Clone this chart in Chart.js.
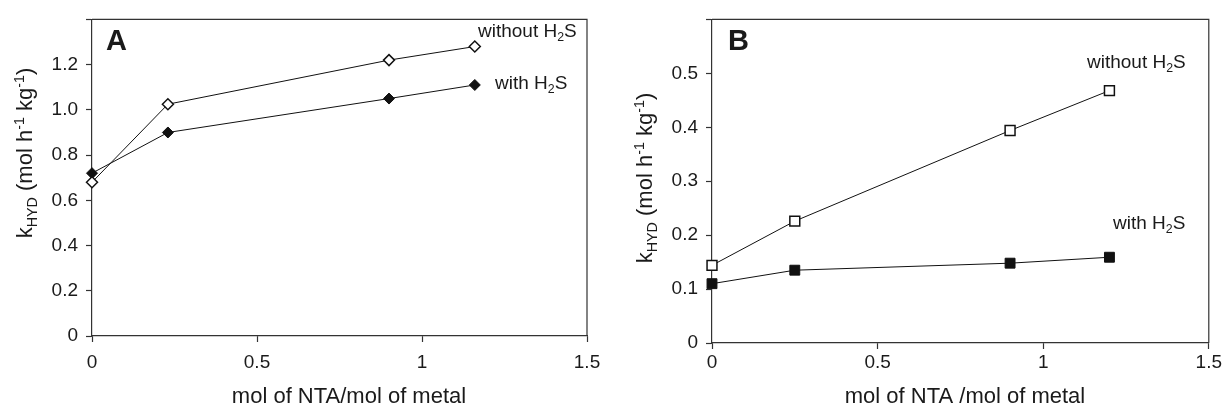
<!DOCTYPE html>
<html>
<head>
<meta charset="utf-8">
<script src="https://cdn.jsdelivr.net/npm/chart.js@4.4.0/dist/chart.umd.min.js"></script>
<style>
html, body { margin: 0; padding: 0; background: #fff; }
#wrap { position: relative; width: 1224px; height: 409px; }
.panel { position: absolute; top: 0; width: 612px; height: 409px; }
</style>
</head>
<body>
<div id="wrap">
  <div class="panel" style="left:0"><canvas id="chartA"></canvas></div>
  <div class="panel" style="left:612px"><canvas id="chartB"></canvas></div>
</div>
<script>
// panel A : mol NTA / mol metal vs kHYD
const ratioA = [0, 0.23, 0.9, 1.16];
const withoutA = [0.68, 1.025, 1.22, 1.28];
const withA = [0.72, 0.90, 1.05, 1.11];

// panel B
const ratioB = [0, 0.25, 0.9, 1.2];
const withoutB = [0.144, 0.226, 0.394, 0.468];
const withB = [0.11, 0.135, 0.148, 0.159];

const xTicks = [0, 0.5, 1, 1.5];
const xLabels = ['0', '0.5', '1', '1.5'];
const yTicksA = [0, 0.2, 0.4, 0.6, 0.8, 1.0, 1.2, 1.4];
const yLabelsA = ['0', '0.2', '0.4', '0.6', '0.8', '1.0', '1.2', ''];
const yTicksB = [0, 0.1, 0.2, 0.3, 0.4, 0.5, 0.6];
const yLabelsB = ['0', '0.1', '0.2', '0.3', '0.4', '0.5', ''];

const FONT = "'Liberation Sans', Arial, sans-serif";
const INK = '#1a1a1a';

function drawRich(ctx, parts, x, y, size, align) {
  const small = size * 0.65;
  let w = 0;
  parts.forEach(p => {
    ctx.font = (p[1] ? small : size) + 'px ' + FONT;
    w += ctx.measureText(p[0]).width;
  });
  let cx = align === 'center' ? x - w / 2 : x;
  ctx.textAlign = 'left';
  ctx.textBaseline = 'alphabetic';
  parts.forEach(p => {
    ctx.font = (p[1] ? small : size) + 'px ' + FONT;
    let dy = 0;
    if (p[1] === 'sub') dy = size * 0.22;
    if (p[1] === 'sup') dy = -size * 0.38;
    ctx.fillText(p[0], cx, y + dy);
    cx += ctx.measureText(p[0]).width;
  });
}

const yTitle = [['k'], ['HYD', 'sub'], [' (mol h'], ['-1', 'sup'], [' kg'], ['-1', 'sup'], [')']];

const decorPlugin = {
  id: 'decor',
  afterDraw(chart) {
    const d = chart.options.plugins.decor;
    const ctx = chart.ctx;
    const a = chart.chartArea;
    ctx.save();
    // top and right side of the frame
    ctx.strokeStyle = '#333';
    ctx.lineWidth = 1.2;
    ctx.beginPath();
    ctx.moveTo(a.left, a.top);
    ctx.lineTo(a.right, a.top);
    ctx.lineTo(a.right, a.bottom);
    ctx.stroke();

    ctx.fillStyle = INK;
    ctx.font = 'bold 29px ' + FONT;
    ctx.textAlign = 'left';
    ctx.textBaseline = 'alphabetic';
    ctx.fillText(d.letter, d.letterX, d.letterY);

    drawRich(ctx, [[d.xTitle]], d.xTitleX, d.xTitleY, 22, 'center');

    ctx.save();
    ctx.translate(d.yTitleX, d.yTitleY);
    ctx.rotate(-Math.PI / 2);
    drawRich(ctx, yTitle, 0, 0, 22, 'center');
    ctx.restore();

    d.labels.forEach(l => drawRich(ctx, l.parts, l.x, l.y, 19, 'left'));
    ctx.restore();
  }
};

function makeChart(id, xs, ysOpen, ysFilled, yMax, yTicks, yLabels, box, xPad, style, radius, decor) {
  const W = 612, H = 409;
  const pts = ys => xs.map((x, i) => ({ x: x, y: ys[i] }));
  const tickFont = { family: FONT, size: 19 };
  return new Chart(document.getElementById(id), {
    type: 'line',
    data: {
      datasets: [
        {
          label: 'without H2S', data: pts(ysOpen),
          borderColor: '#111', borderWidth: 1,
          pointStyle: style, pointRadius: radius,
          pointBackgroundColor: '#fff', pointBorderColor: '#111', pointBorderWidth: 1.5,
          clip: false, order: 1
        },
        {
          label: 'with H2S', data: pts(ysFilled),
          borderColor: '#111', borderWidth: 1,
          pointStyle: style, pointRadius: radius,
          pointBackgroundColor: '#111', pointBorderColor: '#111', pointBorderWidth: 1,
          clip: false, order: 2
        }
      ]
    },
    options: {
      responsive: true,
      maintainAspectRatio: false,
      animation: false,
      events: [],
      layout: { padding: { left: 0, top: box.top, right: W - box.right, bottom: 0 } },
      plugins: { legend: { display: false }, tooltip: { enabled: false }, decor: decor },
      scales: {
        x: {
          type: 'linear', min: 0, max: 1.5,
          afterBuildTicks: s => { s.ticks = xTicks.map(v => ({ value: v })); },
          afterFit: s => { s.height = H - box.bottom; },
          ticks: { callback: (v, i) => xLabels[i], font: tickFont, color: INK, padding: xPad, maxRotation: 0 },
          grid: { drawOnChartArea: false, drawTicks: true, tickLength: 6, tickColor: '#333', tickWidth: 1.2 },
          border: { color: '#333', width: 1.2 }
        },
        y: {
          min: 0, max: yMax,
          afterBuildTicks: s => { s.ticks = yTicks.map(v => ({ value: v })); },
          afterFit: s => { s.width = box.left; },
          ticks: { callback: (v, i) => yLabels[i], font: tickFont, color: INK, padding: 8 },
          grid: { drawOnChartArea: false, drawTicks: true, tickLength: 6, tickColor: '#333', tickWidth: 1.2 },
          border: { color: '#333', width: 1.2 }
        }
      }
    },
    plugins: [decorPlugin]
  });
}

makeChart('chartA', ratioA, withoutA, withA, 1.4, yTicksA, yLabelsA,
  { left: 92, top: 13, right: 587, bottom: 336 }, 9, 'rectRot', 5.5,
  {
    letter: 'A', letterX: 106, letterY: 50,
    xTitle: 'mol of NTA/mol of metal', xTitleX: 349, xTitleY: 403,
    yTitleX: 32, yTitleY: 153,
    labels: [
      { parts: [['without H'], ['2', 'sub'], ['S']], x: 478, y: 37 },
      { parts: [['with H'], ['2', 'sub'], ['S']], x: 495, y: 89 }
    ]
  });

makeChart('chartB', ratioB, withoutB, withB, 0.6, yTicksB, yLabelsB,
  { left: 100, top: 18, right: 597, bottom: 343 }, 2, 'rect', 7,
  {
    letter: 'B', letterX: 116, letterY: 50,
    xTitle: 'mol of NTA /mol of metal', xTitleX: 353, xTitleY: 403,
    yTitleX: 40, yTitleY: 178,
    labels: [
      { parts: [['without H'], ['2', 'sub'], ['S']], x: 475, y: 68 },
      { parts: [['with H'], ['2', 'sub'], ['S']], x: 501, y: 229 }
    ]
  });
</script>
</body>
</html>
